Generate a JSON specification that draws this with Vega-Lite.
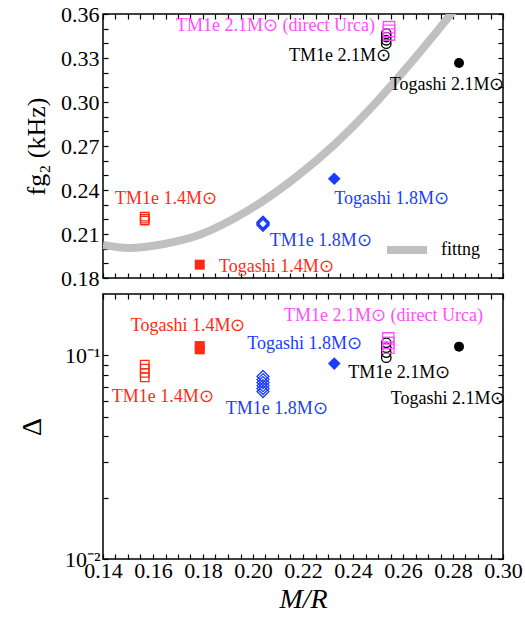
{
  "$schema": "https://vega.github.io/schema/vega-lite/v6.json",
  "padding": {"left": 17, "top": 2, "right": 0, "bottom": 2},
  "spacing": 16,
  "bounds": "flush",
  "config": {
    "font": "Liberation Serif",
    "view": {"stroke": "black", "strokeWidth": 1.5},
    "axis": {"grid": false, "domain": false, "tickColor": "black", "tickSize": -5, "tickWidth": 1.2,
      "labelFlush": false, "labelOverlap": false,
      "labelFont": "Liberation Serif", "labelFontSize": 22, "labelColor": "black",
      "titleFont": "Liberation Serif", "titleColor": "black", "titleFontWeight": "normal"},
    "text": {"font": "Liberation Serif", "fontSize": 18}
  },
  "datasets": {
    "fit": [
      {"mr": 0.1400, "val": 0.2025, "name": "fittng"},
      {"mr": 0.1504, "val": 0.2005, "name": "fittng"},
      {"mr": 0.1644, "val": 0.2032, "name": "fittng"},
      {"mr": 0.1784, "val": 0.2093, "name": "fittng"},
      {"mr": 0.1984, "val": 0.2264, "name": "fittng"},
      {"mr": 0.2184, "val": 0.2504, "name": "fittng"},
      {"mr": 0.2324, "val": 0.2707, "name": "fittng"},
      {"mr": 0.2464, "val": 0.2945, "name": "fittng"},
      {"mr": 0.2584, "val": 0.3173, "name": "fittng"},
      {"mr": 0.2796, "val": 0.3608, "name": "fittng"},
      {"mr": 0.2864, "val": 0.3754, "name": "fittng"}
    ],
    "top": [
      {"group": "TM1e 1.4", "eos": "TM1e", "mr": 0.1567, "val": 0.2218},
      {"group": "TM1e 1.4", "eos": "TM1e", "mr": 0.1567, "val": 0.2205},
      {"group": "TM1e 1.4", "eos": "TM1e", "mr": 0.1567, "val": 0.2192},
      {"group": "Togashi 1.4", "eos": "Togashi", "mr": 0.1787, "val": 0.1891},
      {"group": "TM1e 1.8", "eos": "TM1e", "mr": 0.2040, "val": 0.2180},
      {"group": "TM1e 1.8", "eos": "TM1e", "mr": 0.2040, "val": 0.2173},
      {"group": "TM1e 1.8", "eos": "TM1e", "mr": 0.2040, "val": 0.2166},
      {"group": "TM1e 1.8", "eos": "TM1e", "mr": 0.2040, "val": 0.2159},
      {"group": "Togashi 1.8", "eos": "Togashi", "mr": 0.2325, "val": 0.2477},
      {"group": "TM1e 2.1", "eos": "TM1e", "mr": 0.2533, "val": 0.3466},
      {"group": "TM1e 2.1", "eos": "TM1e", "mr": 0.2533, "val": 0.3443},
      {"group": "TM1e 2.1", "eos": "TM1e", "mr": 0.2533, "val": 0.3421},
      {"group": "TM1e 2.1", "eos": "TM1e", "mr": 0.2533, "val": 0.3398},
      {"group": "TM1e 2.1 dU", "eos": "TM1e", "mr": 0.2544, "val": 0.3510},
      {"group": "TM1e 2.1 dU", "eos": "TM1e", "mr": 0.2544, "val": 0.3485},
      {"group": "TM1e 2.1 dU", "eos": "TM1e", "mr": 0.2544, "val": 0.3460},
      {"group": "Togashi 2.1", "eos": "Togashi", "mr": 0.2824, "val": 0.3266}
    ],
    "bot": [
      {"group": "TM1e 1.4", "eos": "TM1e", "mr": 0.1567, "val": 0.090},
      {"group": "TM1e 1.4", "eos": "TM1e", "mr": 0.1567, "val": 0.086},
      {"group": "TM1e 1.4", "eos": "TM1e", "mr": 0.1567, "val": 0.082},
      {"group": "TM1e 1.4", "eos": "TM1e", "mr": 0.1567, "val": 0.078},
      {"group": "Togashi 1.4", "eos": "Togashi", "mr": 0.1787, "val": 0.111},
      {"group": "Togashi 1.4", "eos": "Togashi", "mr": 0.1787, "val": 0.107},
      {"group": "TM1e 1.8", "eos": "TM1e", "mr": 0.2040, "val": 0.0787},
      {"group": "TM1e 1.8", "eos": "TM1e", "mr": 0.2040, "val": 0.0760},
      {"group": "TM1e 1.8", "eos": "TM1e", "mr": 0.2040, "val": 0.0735},
      {"group": "TM1e 1.8", "eos": "TM1e", "mr": 0.2040, "val": 0.0710},
      {"group": "TM1e 1.8", "eos": "TM1e", "mr": 0.2040, "val": 0.0687},
      {"group": "TM1e 1.8", "eos": "TM1e", "mr": 0.2040, "val": 0.0664},
      {"group": "Togashi 1.8", "eos": "Togashi", "mr": 0.2325, "val": 0.0911},
      {"group": "TM1e 2.1", "eos": "TM1e", "mr": 0.2533, "val": 0.1153},
      {"group": "TM1e 2.1", "eos": "TM1e", "mr": 0.2533, "val": 0.1090},
      {"group": "TM1e 2.1", "eos": "TM1e", "mr": 0.2533, "val": 0.1031},
      {"group": "TM1e 2.1", "eos": "TM1e", "mr": 0.2533, "val": 0.0974},
      {"group": "TM1e 2.1 dU", "eos": "TM1e", "mr": 0.2541, "val": 0.121},
      {"group": "TM1e 2.1 dU", "eos": "TM1e", "mr": 0.2541, "val": 0.115},
      {"group": "TM1e 2.1 dU", "eos": "TM1e", "mr": 0.2541, "val": 0.109},
      {"group": "Togashi 2.1", "eos": "Togashi", "mr": 0.2824, "val": 0.1103}
    ],
    "toplab": [
      {"group": "TM1e 2.1 dU", "mr": 0.1692, "val": 0.3518, "label": "TM1e 2.1M⊙ (direct Urca)"},
      {"group": "TM1e 2.1", "mr": 0.2144, "val": 0.3314, "label": "TM1e 2.1M⊙"},
      {"group": "Togashi 2.1", "mr": 0.2547, "val": 0.3116, "label": "Togashi 2.1M⊙"},
      {"group": "TM1e 1.4", "mr": 0.1448, "val": 0.2339, "label": "TM1e 1.4M⊙"},
      {"group": "Togashi 1.8", "mr": 0.2325, "val": 0.2339, "label": "Togashi 1.8M⊙"},
      {"group": "TM1e 1.8", "mr": 0.2067, "val": 0.2052, "label": "TM1e 1.8M⊙"},
      {"group": "Togashi 1.4", "mr": 0.1864, "val": 0.1875, "label": "Togashi 1.4M⊙"}
    ],
    "botlab": [
      {"group": "Togashi 1.4", "mr": 0.1511, "val": 0.1398, "label": "Togashi 1.4M⊙"},
      {"group": "TM1e 2.1 dU", "mr": 0.2124, "val": 0.1564, "label": "TM1e 2.1M⊙ (direct Urca)"},
      {"group": "Togashi 1.8", "mr": 0.1977, "val": 0.1132, "label": "Togashi 1.8M⊙"},
      {"group": "TM1e 2.1", "mr": 0.2381, "val": 0.0823, "label": "TM1e 2.1M⊙"},
      {"group": "TM1e 1.4", "mr": 0.1435, "val": 0.0621, "label": "TM1e 1.4M⊙"},
      {"group": "Togashi 2.1", "mr": 0.2551, "val": 0.0609, "label": "Togashi 2.1M⊙"},
      {"group": "TM1e 1.8", "mr": 0.1891, "val": 0.0544, "label": "TM1e 1.8M⊙"}
    ]
  },
  "vconcat": [
    {
      "width": 400,
      "height": 264,
      "resolve": {"axis": {"x": "independent", "y": "independent"}},
      "layer": [
        {
          "data": {"name": "fit"},
          "mark": {"type": "line", "interpolate": "monotone", "strokeWidth": 8, "clip": true},
          "encoding": {
            "x": {"field": "mr", "type": "quantitative", "scale": {"domain": [0.14, 0.30], "nice": false, "zero": false},
              "axis": {"orient": "bottom", "labels": false, "title": null,
                "values": [0.14,0.145,0.15,0.155,0.16,0.165,0.17,0.175,0.18,0.185,0.19,0.195,0.2,0.205,0.21,0.215,0.22,0.225,0.23,0.235,0.24,0.245,0.25,0.255,0.26,0.265,0.27,0.275,0.28,0.285,0.29,0.295,0.3]}},
            "y": {"field": "val", "type": "quantitative", "scale": {"domain": [0.18, 0.36], "nice": false, "zero": false},
              "axis": {"orient": "left", "title": "fg₂ (kHz)", "titleFontSize": 26, "titlePadding": 11, "labelPadding": 9,
                "values": [0.18,0.19,0.2,0.21,0.22,0.23,0.24,0.25,0.26,0.27,0.28,0.29,0.3,0.31,0.32,0.33,0.34,0.35,0.36],
                "labelExpr": "abs(round(datum.value*100) % 3) < 0.5 ? format(datum.value, '.2f') : ''"}},
            "stroke": {"field": "name", "type": "nominal", "scale": {"domain": ["fittng"], "range": ["#c0c0c0"]},
              "legend": {"orient": "none", "legendX": 280, "legendY": 212, "title": null, "symbolType": "stroke", "symbolStrokeWidth": 8, "symbolSize": 1600,
                "labelFontSize": 18, "labelFont": "Liberation Serif", "labelColor": "black", "padding": 0, "labelOffset": 10}}
          }
        },
        {
          "data": {"name": "fit"},
          "mark": {"type": "point", "opacity": 0, "clip": true},
          "encoding": {
            "x": {"field": "mr", "type": "quantitative",
              "axis": {"orient": "top", "labels": false, "title": null,
                "values": [0.14,0.145,0.15,0.155,0.16,0.165,0.17,0.175,0.18,0.185,0.19,0.195,0.2,0.205,0.21,0.215,0.22,0.225,0.23,0.235,0.24,0.245,0.25,0.255,0.26,0.265,0.27,0.275,0.28,0.285,0.29,0.295,0.3]}},
            "y": {"field": "val", "type": "quantitative",
              "axis": {"orient": "right", "labels": false, "title": null,
                "values": [0.18,0.19,0.2,0.21,0.22,0.23,0.24,0.25,0.26,0.27,0.28,0.29,0.3,0.31,0.32,0.33,0.34,0.35,0.36]}}
          }
        },
        {
          "data": {"name": "top"},
          "transform": [{"filter": "datum.eos == 'TM1e'"}],
          "mark": {"type": "point", "filled": false, "strokeWidth": 1.3, "opacity": 1},
          "encoding": {
            "x": {"field": "mr", "type": "quantitative", "axis": null},
            "y": {"field": "val", "type": "quantitative", "axis": null},
            "color": {"field": "group", "type": "nominal", "legend": null,
              "scale": {"domain": ["TM1e 1.4","Togashi 1.4","TM1e 1.8","Togashi 1.8","TM1e 2.1","Togashi 2.1","TM1e 2.1 dU"],
                "range": ["#ff2a14","#ff2a14","#1a3cff","#1a3cff","#000000","#000000","#ff4dff"]}},
            "shape": {"field": "group", "type": "nominal", "legend": null,
              "scale": {"domain": ["TM1e 1.4","Togashi 1.4","TM1e 1.8","Togashi 1.8","TM1e 2.1","Togashi 2.1","TM1e 2.1 dU"],
                "range": ["square","square","diamond","diamond","circle","circle","square"]}},
            "size": {"field": "group", "type": "nominal", "legend": null,
              "scale": {"type": "ordinal", "domain": ["TM1e 1.4","Togashi 1.4","TM1e 1.8","Togashi 1.8","TM1e 2.1","Togashi 2.1","TM1e 2.1 dU"],
                "range": [72, 100, 144, 160, 90, 100, 130]}}
          }
        },
        {
          "data": {"name": "top"},
          "transform": [{"filter": "datum.eos == 'Togashi'"}],
          "mark": {"type": "point", "filled": true, "opacity": 1},
          "encoding": {
            "x": {"field": "mr", "type": "quantitative", "axis": null},
            "y": {"field": "val", "type": "quantitative", "axis": null},
            "color": {"field": "group", "type": "nominal", "legend": null,
              "scale": {"domain": ["TM1e 1.4","Togashi 1.4","TM1e 1.8","Togashi 1.8","TM1e 2.1","Togashi 2.1","TM1e 2.1 dU"],
                "range": ["#ff2a14","#ff2a14","#1a3cff","#1a3cff","#000000","#000000","#ff4dff"]}},
            "shape": {"field": "group", "type": "nominal", "legend": null,
              "scale": {"domain": ["TM1e 1.4","Togashi 1.4","TM1e 1.8","Togashi 1.8","TM1e 2.1","Togashi 2.1","TM1e 2.1 dU"],
                "range": ["square","square","diamond","diamond","circle","circle","square"]}},
            "size": {"field": "group", "type": "nominal", "legend": null,
              "scale": {"type": "ordinal", "domain": ["TM1e 1.4","Togashi 1.4","TM1e 1.8","Togashi 1.8","TM1e 2.1","Togashi 2.1","TM1e 2.1 dU"],
                "range": [72, 100, 144, 160, 90, 100, 130]}}
          }
        },
        {
          "data": {"name": "toplab"},
          "mark": {"type": "text", "align": "left", "baseline": "middle", "fontSize": 18},
          "encoding": {
            "x": {"field": "mr", "type": "quantitative", "axis": null},
            "y": {"field": "val", "type": "quantitative", "axis": null},
            "text": {"field": "label"},
            "color": {"field": "group", "type": "nominal", "legend": null}
          }
        }
      ]
    },
    {
      "width": 400,
      "height": 265,
      "resolve": {"axis": {"x": "independent", "y": "independent"}},
      "layer": [
        {
          "data": {"name": "bot"},
          "transform": [{"filter": "datum.eos == 'TM1e'"}],
          "mark": {"type": "point", "filled": false, "strokeWidth": 1.3, "opacity": 1},
          "encoding": {
            "x": {"field": "mr", "type": "quantitative", "scale": {"domain": [0.14, 0.30], "nice": false, "zero": false},
              "axis": {"orient": "bottom", "title": "M/R", "titleFontSize": 28, "titleFontStyle": "italic", "titlePadding": 4, "labelPadding": 6,
                "values": [0.14,0.145,0.15,0.155,0.16,0.165,0.17,0.175,0.18,0.185,0.19,0.195,0.2,0.205,0.21,0.215,0.22,0.225,0.23,0.235,0.24,0.245,0.25,0.255,0.26,0.265,0.27,0.275,0.28,0.285,0.29,0.295,0.3],
                "labelExpr": "abs(datum.value*100 - round(datum.value*100)) < 0.01 && round(datum.value*100) % 2 == 0 ? format(datum.value, '.2f') : ''"}},
            "y": {"field": "val", "type": "quantitative", "scale": {"type": "log", "domain": [0.01, 0.2], "nice": false},
              "axis": {"orient": "left", "title": "Δ", "titleFontSize": 28, "titlePadding": 18, "labelPadding": 8,
                "values": [0.01,0.02,0.03,0.04,0.05,0.06,0.07,0.08,0.09,0.1],
                "labelExpr": "abs(datum.value - 0.01) < 1e-9 ? '10⁻²' : abs(datum.value - 0.1) < 1e-9 ? '10⁻¹' : ''"}},
            "color": {"field": "group", "type": "nominal", "legend": null,
              "scale": {"domain": ["TM1e 1.4","Togashi 1.4","TM1e 1.8","Togashi 1.8","TM1e 2.1","Togashi 2.1","TM1e 2.1 dU"],
                "range": ["#ff2a14","#ff2a14","#1a3cff","#1a3cff","#000000","#000000","#ff4dff"]}},
            "shape": {"field": "group", "type": "nominal", "legend": null,
              "scale": {"domain": ["TM1e 1.4","Togashi 1.4","TM1e 1.8","Togashi 1.8","TM1e 2.1","Togashi 2.1","TM1e 2.1 dU"],
                "range": ["square","square","diamond","diamond","circle","circle","square"]}},
            "size": {"field": "group", "type": "nominal", "legend": null,
              "scale": {"type": "ordinal", "domain": ["TM1e 1.4","Togashi 1.4","TM1e 1.8","Togashi 1.8","TM1e 2.1","Togashi 2.1","TM1e 2.1 dU"],
                "range": [72, 100, 144, 160, 90, 100, 130]}}
          }
        },
        {
          "data": {"name": "bot"},
          "mark": {"type": "point", "opacity": 0},
          "encoding": {
            "x": {"field": "mr", "type": "quantitative",
              "axis": {"orient": "top", "labels": false, "title": null,
                "values": [0.14,0.145,0.15,0.155,0.16,0.165,0.17,0.175,0.18,0.185,0.19,0.195,0.2,0.205,0.21,0.215,0.22,0.225,0.23,0.235,0.24,0.245,0.25,0.255,0.26,0.265,0.27,0.275,0.28,0.285,0.29,0.295,0.3]}},
            "y": {"field": "val", "type": "quantitative",
              "axis": {"orient": "right", "labels": false, "title": null,
                "values": [0.01,0.02,0.03,0.04,0.05,0.06,0.07,0.08,0.09,0.1]}}
          }
        },
        {
          "data": {"name": "bot"},
          "transform": [{"filter": "datum.eos == 'Togashi'"}],
          "mark": {"type": "point", "filled": true, "opacity": 1},
          "encoding": {
            "x": {"field": "mr", "type": "quantitative", "axis": null},
            "y": {"field": "val", "type": "quantitative", "axis": null},
            "color": {"field": "group", "type": "nominal", "legend": null,
              "scale": {"domain": ["TM1e 1.4","Togashi 1.4","TM1e 1.8","Togashi 1.8","TM1e 2.1","Togashi 2.1","TM1e 2.1 dU"],
                "range": ["#ff2a14","#ff2a14","#1a3cff","#1a3cff","#000000","#000000","#ff4dff"]}},
            "shape": {"field": "group", "type": "nominal", "legend": null,
              "scale": {"domain": ["TM1e 1.4","Togashi 1.4","TM1e 1.8","Togashi 1.8","TM1e 2.1","Togashi 2.1","TM1e 2.1 dU"],
                "range": ["square","square","diamond","diamond","circle","circle","square"]}},
            "size": {"field": "group", "type": "nominal", "legend": null,
              "scale": {"type": "ordinal", "domain": ["TM1e 1.4","Togashi 1.4","TM1e 1.8","Togashi 1.8","TM1e 2.1","Togashi 2.1","TM1e 2.1 dU"],
                "range": [72, 100, 144, 160, 90, 100, 130]}}
          }
        },
        {
          "data": {"name": "botlab"},
          "mark": {"type": "text", "align": "left", "baseline": "middle", "fontSize": 18},
          "encoding": {
            "x": {"field": "mr", "type": "quantitative", "axis": null},
            "y": {"field": "val", "type": "quantitative", "axis": null},
            "text": {"field": "label"},
            "color": {"field": "group", "type": "nominal", "legend": null}
          }
        }
      ]
    }
  ]
}
